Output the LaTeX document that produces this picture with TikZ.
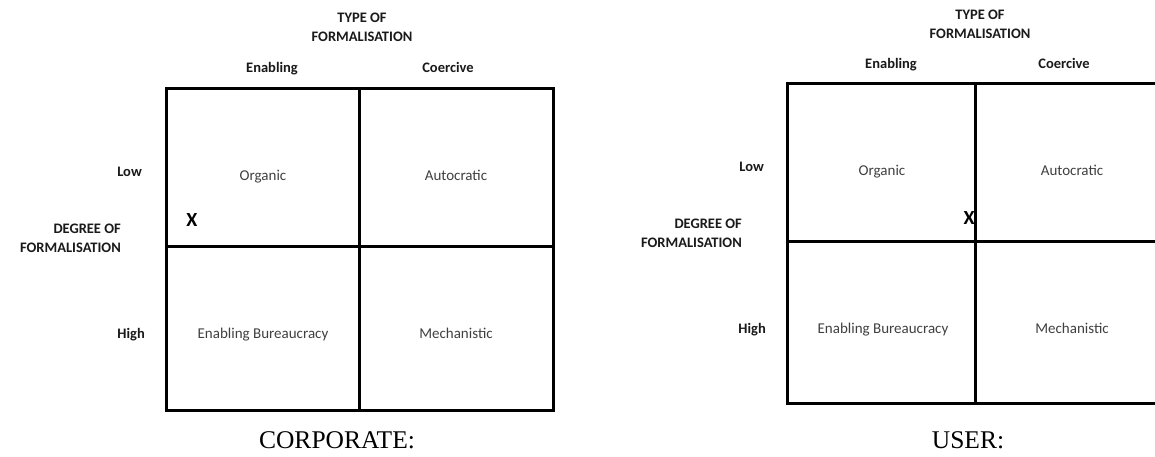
\documentclass[tikz,border=0pt]{standalone}
\usepackage{fontspec}
\setmainfont{Carlito}
\newfontfamily\capfont{Liberation Serif}
\definecolor{celltext}{HTML}{404040}
\definecolor{headtext}{HTML}{1A1A1A}
\begin{document}
\begin{tikzpicture}[x=1pt,y=-1pt,
  gridline/.style={line width=3pt,black},
  head/.style={font=\fontsize{14.5}{17}\selectfont\bfseries,text=headtext,inner sep=0pt},
  colhead/.style={head,anchor=base},
  rowhead/.style={head,anchor=base east},
  axis/.style={head,align=right,anchor=east},
  cell/.style={font=\fontsize{15}{18}\selectfont,text=celltext,inner sep=0pt,anchor=base},
  xmark/.style={font=\fontsize{20}{22}\selectfont\bfseries,inner sep=0pt,anchor=base},
  caption/.style={font=\capfont\fontsize{25.5}{28}\selectfont,inner sep=0pt}]
\clip (0,0) rectangle (1155,456);
\fill[white] (0,0) rectangle (1155,456);

% ---- corporate matrix ----
\draw[gridline] (166,88) rectangle (553,410);
\draw[gridline] (359,88) -- (359,410);
\draw[gridline] (166,246) -- (553,246);
\node[head,align=center] (ctype) at (362,27) {TYPE OF\\[2pt]FORMALISATION};
\node[colhead] (cen) at (272,72) {Enabling};
\node[colhead] (cco) at (448,72) {Coercive};
\node[rowhead] (clow) at (142,176) {Low};
\node[rowhead] (chigh) at (145,338) {High};
\node[axis] (cdeg) at (121,238) {DEGREE OF\\[2pt]FORMALISATION};
\node[cell] (corg) at (263,180) {Organic};
\node[cell] (caut) at (456,180) {Autocratic};
\node[cell] (cbur) at (263,338) {Enabling Bureaucracy};
\node[cell] (cmec) at (456,338) {Mechanistic};
\node[xmark] (cx) at (192,226) {X};
\node[caption] (ccap) at (337,440) {CORPORATE:};

% ---- user matrix ----
\draw[gridline] (787,83) rectangle (1170,403);
\draw[gridline] (975,83) -- (975,403);
\draw[gridline] (787,241) -- (1170,241);
\node[head,align=center] (utype) at (980,24) {TYPE OF\\[2pt]FORMALISATION};
\node[colhead] (uen) at (891,68) {Enabling};
\node[colhead] (uco) at (1064,68) {Coercive};
\node[rowhead] (ulow) at (764,171) {Low};
\node[rowhead] (uhigh) at (766,333) {High};
\node[axis] (udeg) at (742,233) {DEGREE OF\\[2pt]FORMALISATION};
\node[cell] (uorg) at (882,175) {Organic};
\node[cell] (uaut) at (1072,175) {Autocratic};
\node[cell] (ubur) at (883,333) {Enabling Bureaucracy};
\node[cell] (umec) at (1072,333) {Mechanistic};
\node[xmark] (ux) at (969,224) {X};
\node[caption] (ucap) at (968,440) {USER:};
\end{tikzpicture}
\end{document}
